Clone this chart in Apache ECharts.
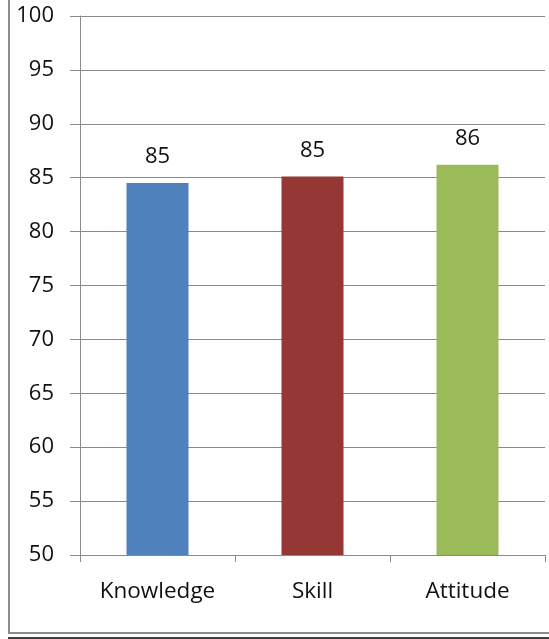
<!DOCTYPE html>
<html><head><meta charset="utf-8">
<script src="https://cdn.jsdelivr.net/npm/echarts@6/dist/echarts.min.js"></script>
<style>html,body{margin:0;padding:0;background:#fff}#c{width:549px;height:639px}</style>
</head><body><div id="c"></div>
<script>
const categories = ['Knowledge', 'Skill', 'Attitude'];
const values = [84.5, 85.1, 86.2];
const colors = ['#4F81BD', '#953735', '#9BBB59'];
const yMin = 50, yMax = 100, yStep = 5;

const chart = echarts.init(document.getElementById('c'));
const font = 'Open Sans';
chart.setOption({
  animation: false,
  backgroundColor: '#fff',
  grid: { left: 80, top: 16, width: 465, height: 539, containLabel: false },
  xAxis: {
    type: 'category', data: categories,
    axisLine: { show: true, lineStyle: { color: '#8a8a8a', width: 1 } },
    axisTick: { show: true, alignWithLabel: false, length: 7, lineStyle: { color: '#8a8a8a' } },
    axisLabel: { color: '#111', fontFamily: font, fontSize: 22.5, margin: 25 }
  },
  yAxis: {
    type: 'value', min: yMin, max: yMax, interval: yStep,
    axisLine: { show: true, lineStyle: { color: '#8a8a8a', width: 1 } },
    axisTick: { show: true, inside: false, length: 10, lineStyle: { color: '#8a8a8a' } },
    splitLine: { show: true, lineStyle: { color: '#8a8a8a', width: 1 } },
    axisLabel: { color: '#111', fontFamily: font, fontSize: 22, margin: 26 }
  },
  series: [{
    type: 'bar', barWidth: '40%',
    data: values.map((v, i) => ({ value: v, itemStyle: { color: colors[i] } })),
    label: { show: true, position: 'top', distance: 15, color: '#111', fontFamily: font, fontSize: 22,
      formatter: p => Math.round(p.value) }
  }],
  graphic: [
    { type: 'rect', shape: { x: 9, y: -20, width: 700, height: 653 }, style: { fill: null, stroke: '#8c8c8c', lineWidth: 2 }, silent: true },
    { type: 'line', shape: { x1: 8, y1: 638, x2: 549, y2: 638 }, style: { stroke: '#000', lineWidth: 1.5 }, silent: true }
  ]
});
</script></body></html>
